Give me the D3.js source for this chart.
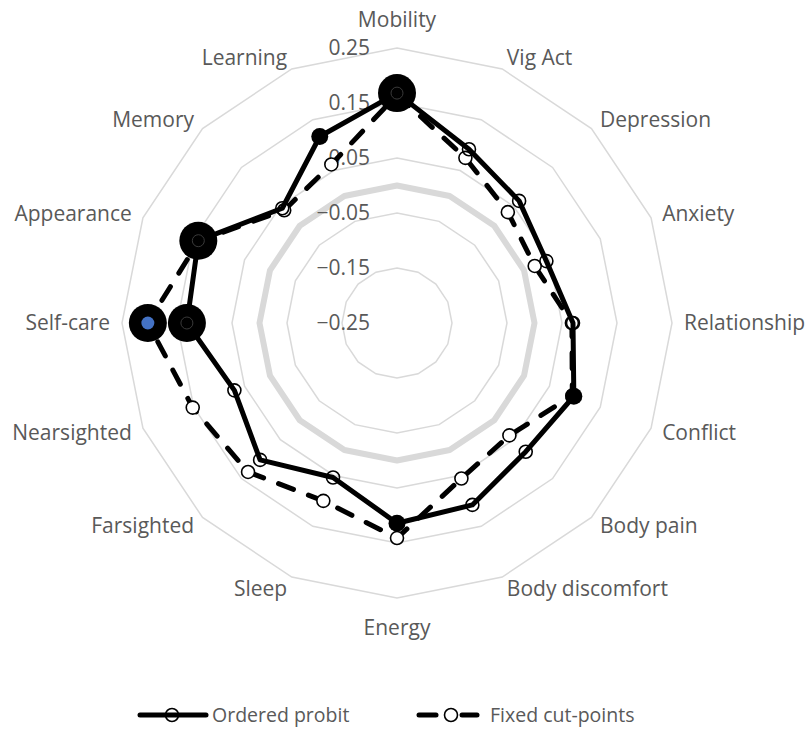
<!DOCTYPE html>
<html>
<head>
<meta charset="utf-8">
<script src="https://cdn.jsdelivr.net/npm/d3@7"></script>
<style>
  body { margin: 0; background: #fff; }
</style>
</head>
<body>
<div id="plot1"></div>
<script>
const categories = ["Mobility", "Vig Act", "Depression", "Anxiety", "Relationship", "Conflict",
  "Body pain", "Body discomfort", "Energy", "Sleep", "Farsighted", "Nearsighted",
  "Self-care", "Appearance", "Memory", "Learning"];
const orderedProbit = [0.168, 0.092, 0.064, 0.044, 0.070, 0.098, 0.081, 0.108,
  0.114, 0.054, 0.102, 0.070, 0.132, 0.141, 0.045, 0.117];
const fixedCutPoints = [0.165, 0.075, 0.035, 0.021, 0.068, 0.095, 0.039, 0.056,
  0.141, 0.100, 0.133, 0.152, 0.203, 0.140, 0.040, 0.062];
// marker kind per point (open / filled / big / highlight)
const orderedMarks = ["big", "open", "open", "open", "open", "filled", "open", "open",
  "filled", "open", "open", "open", "big", "big", "open", "filled"];
const fixedMarks = ["open", "open", "open", "open", "open", "open", "open", "open",
  "open", "open", "open", "open", "highlight", "open", "open", "open"];
const zeroLine = [0, 0, 0, 0, 0, 0, 0, 0, 0, 0, 0, 0, 0, 0, 0, 0];
const tickValues = [-0.25, -0.15, -0.05, 0.05, 0.15, 0.25];
const seriesNames = ["Ordered probit", "Fixed cut-points"];

const width = 806;
const height = 729;
const cx = 397;
const cy = 323;
const gray = "#d9d9d9";
const textGray = "#595959";
const font = "'Open Sans', sans-serif";

const r = d3.scaleLinear().domain([-0.25, 0.25]).range([0, 275]);
const angle = d3.scaleLinear().domain([0, categories.length]).range([0, 2 * Math.PI]);

const pt = (v, i) => [cx + r(v) * Math.sin(angle(i)), cy - r(v) * Math.cos(angle(i))];
const closedLine = d3.line().curve(d3.curveLinearClosed);

const svg = d3.create("svg")
  .attr("width", width)
  .attr("height", height)
  .attr("viewBox", [0, 0, width, height]);

// grid rings
const rings = tickValues.filter(t => t > -0.25);
svg.append("g").selectAll("path")
  .data(rings)
  .join("path")
  .attr("d", t => closedLine(categories.map((c, i) => pt(t, i))))
  .attr("fill", "none")
  .attr("stroke", gray)
  .attr("stroke-width", 1.5);

// zero reference series
svg.append("path")
  .attr("d", closedLine(zeroLine.map(pt)))
  .attr("fill", "none")
  .attr("stroke", gray)
  .attr("stroke-width", 6)
  .attr("stroke-linejoin", "round");

// value axis labels
svg.append("g").selectAll("text")
  .data(tickValues)
  .join("text")
  .attr("x", cx - 27)
  .attr("y", t => cy - r(t))
  .attr("dy", "0.35em")
  .attr("text-anchor", "end")
  .attr("fill", textGray)
  .style("font-family", font)
  .style("font-size", "21px")
  .text(t => d3.format(".2f")(t));

// category labels
svg.append("g").selectAll("text")
  .data(categories)
  .join("text")
  .each(function(c, i) {
    const a = angle(i);
    const s = Math.sin(a), co = Math.cos(a);
    const rr = 287;
    let anchor = "middle", yOff = 0;
    if (s > 0.1) anchor = "start";
    else if (s < -0.1) anchor = "end";
    else yOff = co > 0 ? -16 : 18;
    d3.select(this)
      .attr("x", cx + rr * s)
      .attr("y", cy - rr * co + yOff)
      .attr("dy", "0.35em")
      .attr("text-anchor", anchor);
  })
  .attr("fill", textGray)
  .style("font-family", font)
  .style("font-size", "21px")
  .text(d => d);

function drawMarker(g, x, y, kind, openFill) {
  if (kind === "big") {
    g.append("circle").attr("cx", x).attr("cy", y).attr("r", 19).attr("fill", "black");
    g.append("circle").attr("cx", x).attr("cy", y).attr("r", 6)
      .attr("fill", "none").attr("stroke", "#3a3a3a").attr("stroke-width", 1);
  } else if (kind === "highlight") {
    g.append("circle").attr("cx", x).attr("cy", y).attr("r", 19).attr("fill", "black");
    g.append("circle").attr("cx", x).attr("cy", y).attr("r", 6.5).attr("fill", "#4472c4");
  } else if (kind === "filled") {
    g.append("circle").attr("cx", x).attr("cy", y).attr("r", 8.5).attr("fill", "black");
  } else {
    g.append("circle").attr("cx", x).attr("cy", y).attr("r", 6.5)
      .attr("fill", openFill).attr("stroke", "black").attr("stroke-width", 1.6);
  }
}

function drawSeries(values, marks, dash, openFill) {
  const g = svg.append("g");
  g.append("path")
    .attr("d", closedLine(values.map(pt)))
    .attr("fill", "none")
    .attr("stroke", "black")
    .attr("stroke-width", 5)
    .attr("stroke-linejoin", "round")
    .attr("stroke-linecap", dash ? "round" : "butt")
    .attr("stroke-dasharray", dash ? "16,16" : null);
  values.forEach((v, i) => {
    const [x, y] = pt(v, i);
    drawMarker(g, x, y, marks[i], openFill);
  });
}

drawSeries(fixedCutPoints, fixedMarks, true, "white");
drawSeries(orderedProbit, orderedMarks, false, "none");

// legend
const legend = svg.append("g").attr("transform", "translate(0,715)");
const l1 = legend.append("g");
l1.append("line").attr("x1", 140).attr("x2", 206).attr("y1", 0).attr("y2", 0)
  .attr("stroke", "black").attr("stroke-width", 5).attr("stroke-linecap", "round");
l1.append("circle").attr("cx", 172).attr("cy", 0).attr("r", 6.5)
  .attr("fill", "none").attr("stroke", "black").attr("stroke-width", 1.6);
l1.append("text").attr("x", 212).attr("y", 0).attr("dy", "0.35em")
  .attr("fill", textGray).style("font-family", font).style("font-size", "19.5px")
  .text(seriesNames[0]);

const l2 = legend.append("g");
l2.append("line").attr("x1", 419).attr("x2", 436).attr("y1", 0).attr("y2", 0)
  .attr("stroke", "black").attr("stroke-width", 5).attr("stroke-linecap", "round");
l2.append("line").attr("x1", 462).attr("x2", 477).attr("y1", 0).attr("y2", 0)
  .attr("stroke", "black").attr("stroke-width", 5).attr("stroke-linecap", "round");
l2.append("circle").attr("cx", 451).attr("cy", 0).attr("r", 6.5)
  .attr("fill", "white").attr("stroke", "black").attr("stroke-width", 1.6);
l2.append("text").attr("x", 490).attr("y", 0).attr("dy", "0.35em")
  .attr("fill", textGray).style("font-family", font).style("font-size", "19.5px")
  .text(seriesNames[1]);

document.querySelector("#plot1").append(svg.node());
</script>
</body>
</html>
